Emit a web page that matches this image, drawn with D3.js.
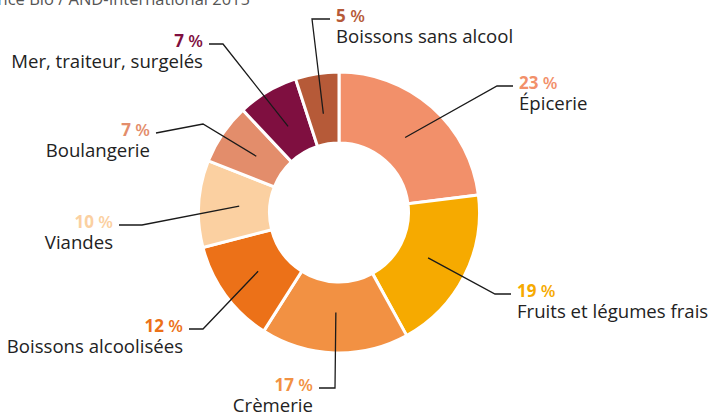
<!DOCTYPE html>
<html lang="fr">
<head>
<meta charset="utf-8">
<script src="https://cdn.jsdelivr.net/npm/d3@7"></script>
<style>
  html, body { margin: 0; padding: 0; background: #fff; }
  svg { display: block; font-family: "Open Sans", "Noto Sans", sans-serif; }
</style>
</head>
<body>
<svg id="chart" width="713" height="412"></svg>
<script>
// Répartition des ventes bio par rayon (en %)
const categories = [
  "Épicerie",
  "Fruits et légumes frais",
  "Crèmerie",
  "Boissons alcoolisées",
  "Viandes",
  "Boulangerie",
  "Mer, traiteur, surgelés",
  "Boissons sans alcool"
];
const shares = [23, 19, 17, 12, 10, 7, 7, 5];
const colors = ["#F2906A", "#F6AA00", "#F29143", "#EC7118", "#FBD0A1", "#E38D6B", "#7F0F40", "#B65A38"];
const source = "Source : Agence Bio / AND-International 2015";

// Placement des étiquettes : coude de la ligne de rappel, fin de ligne, côté du texte
const labelLayout = [
  { elbow: [497, 86],  end: [513, 86],  side: "right" },
  { elbow: [495, 294], end: [511, 294], side: "right" },
  { elbow: [335, 388], end: [319, 388], side: "left"  },
  { elbow: [203, 329], end: [189, 329], side: "left"  },
  { elbow: [142, 225], end: [119, 225], side: "left"  },
  { elbow: [203, 124], end: [156, 133], side: "left"  },
  { elbow: [223, 44],  end: [209, 44],  side: "left"  },
  { elbow: [312, 19],  end: [330, 19],  side: "right" }
];

const svg = d3.select("#chart");
const cx = 339, cy = 212.5;
const outerR = 140.5, innerR = 69.5;

const data = categories.map((c, i) => ({ name: c, value: shares[i], color: colors[i], layout: labelLayout[i] }));

const pie = d3.pie().value(d => d.value).sort(null);
const arc = d3.arc().innerRadius(innerR).outerRadius(outerR);
const anchorArc = d3.arc().innerRadius(100).outerRadius(100);

const g = svg.append("g").attr("transform", `translate(${cx},${cy})`);
const arcs = pie(data);

g.selectAll("path.slice")
  .data(arcs)
  .join("path")
  .attr("class", "slice")
  .attr("d", arc)
  .attr("fill", d => d.data.color)
  .attr("stroke", "#fff")
  .attr("stroke-width", 3)
  .attr("stroke-linejoin", "miter");

// Lignes de rappel
svg.selectAll("polyline.leader")
  .data(arcs)
  .join("polyline")
  .attr("class", "leader")
  .attr("fill", "none")
  .attr("stroke", "#1a1a1a")
  .attr("stroke-width", 1.3)
  .attr("points", d => {
    const [x, y] = anchorArc.centroid(d);
    const L = d.data.layout;
    return [[cx + x, cy + y], L.elbow, L.end].map(p => p.join(",")).join(" ");
  });

// Étiquettes : pourcentage coloré puis libellé
const labels = svg.selectAll("g.label")
  .data(arcs)
  .join("g")
  .attr("class", "label")
  .attr("transform", d => {
    const L = d.data.layout;
    const x = L.side === "right" ? L.end[0] + 6 : L.end[0] - 6;
    return `translate(${x},${L.end[1]})`;
  })
  .attr("text-anchor", d => d.data.layout.side === "right" ? "start" : "end");

const pct = labels.append("text")
  .attr("y", 3)
  .attr("fill", d => d.data.color)
  .style("font-size", "17px")
  .style("font-weight", 700);
pct.append("tspan").text(d => d.data.value);
pct.append("tspan").style("font-weight", 600).text(" %");

labels.append("text")
  .attr("y", 24)
  .attr("fill", "#222")
  .style("font-size", "18.6px")
  .text(d => d.data.name);

// Source (partiellement hors cadre)
svg.append("text")
  .attr("x", 250)
  .attr("y", 4.5)
  .attr("text-anchor", "end")
  .attr("fill", "#555")
  .style("font-size", "16.5px")
  .text(source);
</script>
</body>
</html>
